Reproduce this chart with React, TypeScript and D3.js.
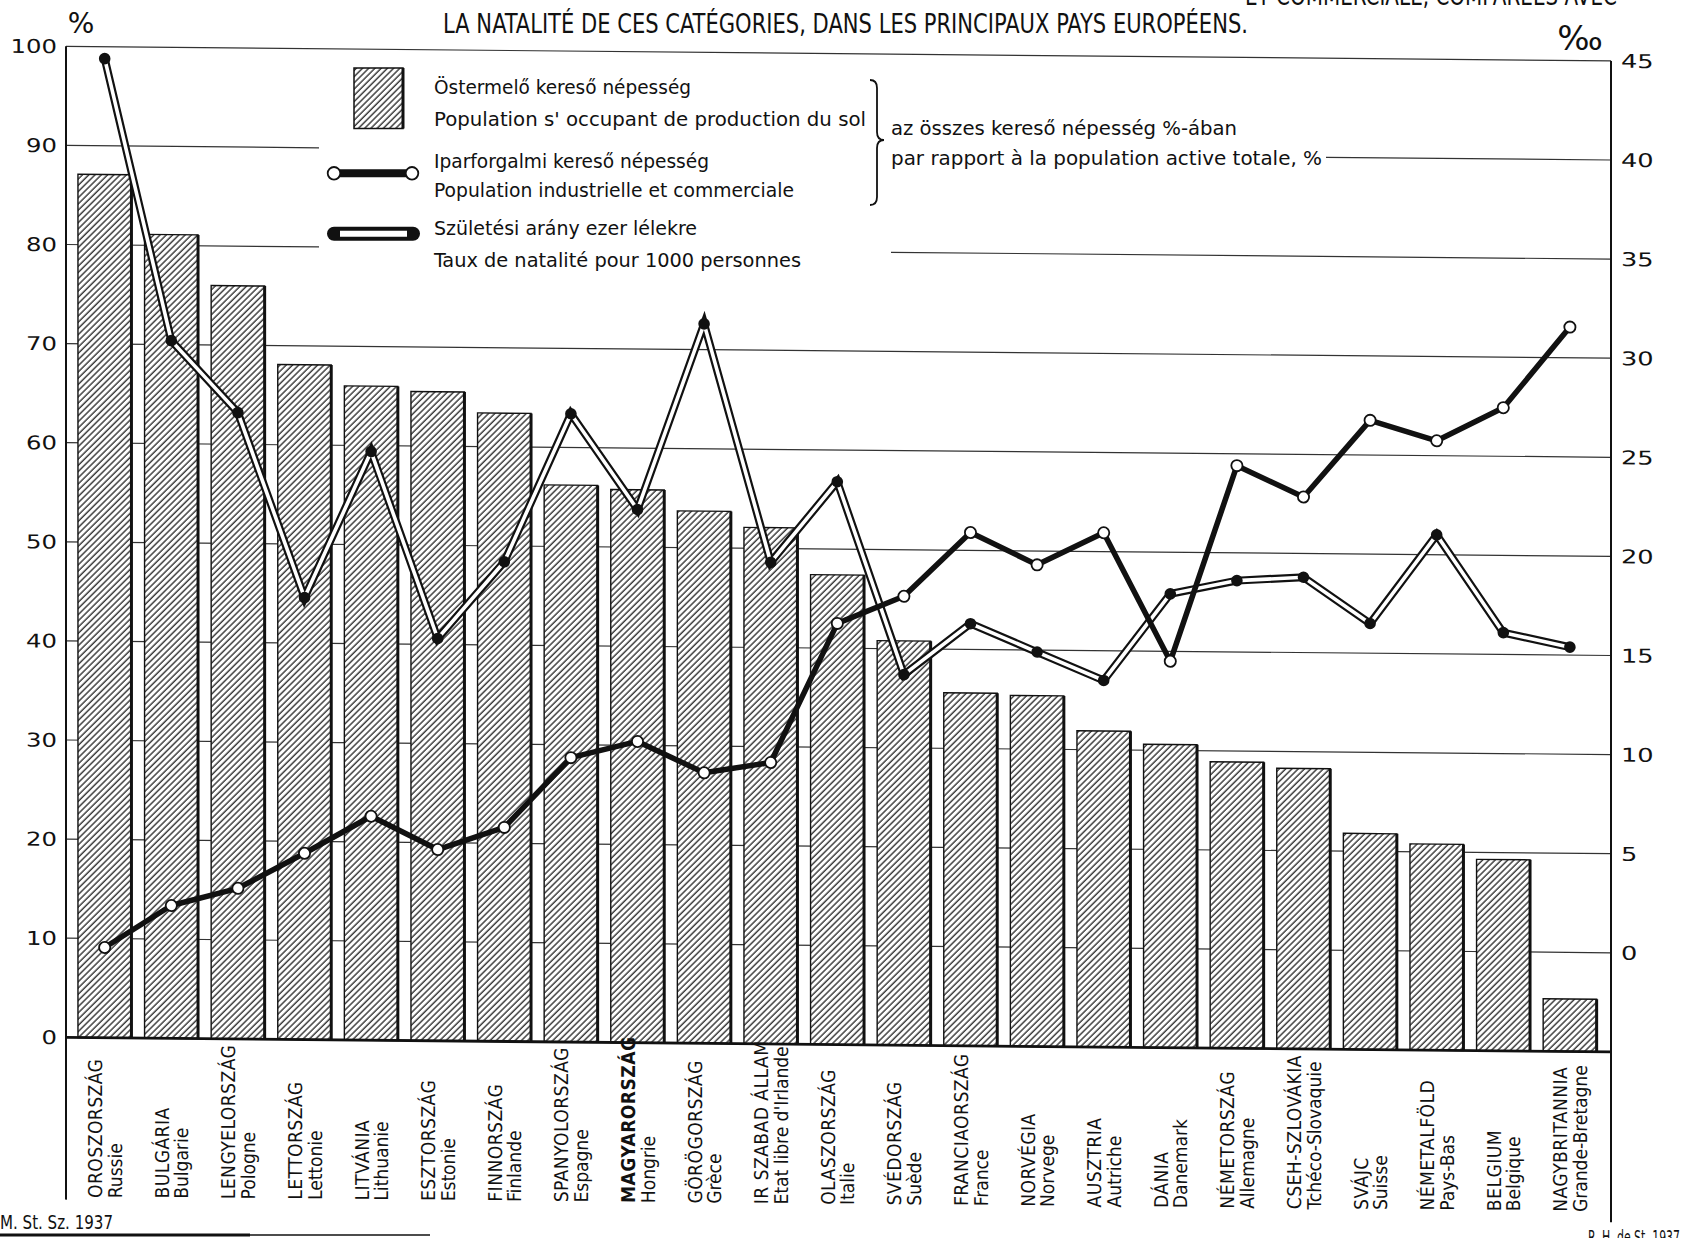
import * as d3 from 'd3';
import { useEffect, useRef } from 'react';

// országok, magyar és francia néven (a grafikon sorrendjében)
const orszagok = [
  'OROSZORSZÁG', 'BULGÁRIA', 'LENGYELORSZÁG', 'LETTORSZÁG', 'LITVÁNIA', 'ESZTORSZÁG',
  'FINNORSZÁG', 'SPANYOLORSZÁG', 'MAGYARORSZÁG', 'GÖRÖGORSZÁG', 'IR SZABAD ÁLLAM',
  'OLASZORSZÁG', 'SVÉDORSZÁG', 'FRANCIAORSZÁG', 'NORVÉGIA', 'AUSZTRIA', 'DÁNIA',
  'NÉMETORSZÁG', 'CSEH-SZLOVÁKIA', 'SVÁJC', 'NÉMETALFÖLD', 'BELGIUM', 'NAGYBRITANNIA',
];
const pays = [
  'Russie', 'Bulgarie', 'Pologne', 'Lettonie', 'Lithuanie', 'Estonie',
  'Finlande', 'Espagne', 'Hongrie', 'Grèce', "Etat libre d'Irlande",
  'Italie', 'Suède', 'France', 'Norvege', 'Autriche', 'Danemark',
  'Allemagne', 'Tchéco-Slovaquie', 'Suisse', 'Pays-Bas', 'Belgique', 'Grande-Bretagne',
];

// Östermelő kereső népesség, az összes kereső népesség %-ában (oszlopok)
const ostermelo = [
  87.1, 81.1, 76.0, 68.1, 66.0, 65.5, 63.4, 56.2, 55.8, 53.7, 52.1,
  47.4, 40.8, 35.6, 35.4, 31.9, 30.6, 28.9, 28.3, 21.8, 20.8, 19.3, 5.3,
];
// Iparforgalmi kereső népesség, % (fekete vonal)
const iparforgalmi = [
  9.1, 13.4, 15.2, 18.8, 22.6, 19.3, 21.6, 28.7, 30.4, 27.3, 28.4,
  42.5, 45.3, 51.8, 48.6, 51.9, 39.0, 58.8, 55.7, 63.5, 61.5, 64.9, 73.1,
];
// Születési arány ezer lélekre, ‰ (üres vonal)
const szuletes = [
  44.4, 30.2, 26.6, 17.3, 24.7, 15.3, 19.2, 26.7, 21.9, 31.3, 19.3,
  23.4, 13.7, 16.3, 14.9, 13.5, 17.9, 18.6, 18.8, 16.5, 21.0, 16.1, 15.4,
];

const balTengely = [0, 10, 20, 30, 40, 50, 60, 70, 80, 90, 100];
const jobbTengely = [0, 5, 10, 15, 20, 25, 30, 35, 40, 45];

type Sor = { o: string; fr: string; agr: number; ind: number; birth: number };

const W = 1682;
const H = 1238;
const NARROW = "'Liberation Sans Narrow','DejaVu Sans Condensed','Arial Narrow',sans-serif";
const WIDE = "'DejaVu Sans',sans-serif";
const INK = '#111';

export default function App() {
  const svgRef = useRef<SVGSVGElement | null>(null);

  useEffect(() => {
    if (!svgRef.current) return;
    const rows: Sor[] = orszagok.map((o, i) => ({
      o, fr: pays[i], agr: ostermelo[i], ind: iparforgalmi[i], birth: szuletes[i],
    }));

    const svg = d3.select(svgRef.current);
    svg.selectAll('*').remove();
    svg.attr('width', W).attr('height', H).attr('viewBox', `0 0 ${W} ${H}`);
    svg.append('rect').attr('width', W).attr('height', H).attr('fill', '#fff');

    // sraffozás az oszlopokhoz
    const defs = svg.append('defs');
    const pat = defs.append('pattern')
      .attr('id', 'hatch')
      .attr('patternUnits', 'userSpaceOnUse')
      .attr('width', 4.4).attr('height', 10)
      .attr('patternTransform', 'rotate(45)');
    pat.append('rect').attr('width', 4.4).attr('height', 10).attr('fill', '#fff');
    pat.append('line').attr('x1', 1).attr('x2', 1).attr('y1', 0).attr('y2', 10)
      .attr('stroke', INK).attr('stroke-width', 1.2);

    const xLeft = 66;
    const xRight = 1611;
    const x = d3.scaleBand<string>().domain(orszagok).range([71.4, 1603.2])
      .paddingInner(0.197).paddingOuter(0.0985);
    const yL = d3.scaleLinear().domain([0, 100]).range([1036.7, 45.7]);
    const yR = d3.scaleLinear().domain([-5, 45]).range([1036.7, 45.7]);
    const cx = (d: Sor) => (x(d.o) as number) + x.bandwidth() / 2;

    // the scan is slightly skewed, so the plot area leans a little
    const g = svg.append('g').attr('transform', 'skewY(0.54)');

    // rácsvonalak (the legend interrupts two of them)
    const grid = g.append('g').attr('stroke', '#333').attr('stroke-width', 1.2);
    balTengely.filter(t => t > 0).forEach(t => {
      const segs = t === 90 ? [[xLeft, 319], [1326, xRight]]
        : t === 80 ? [[xLeft, 319], [891, xRight]]
        : [[xLeft, xRight]];
      segs.forEach(([a, b]) => {
        grid.append('line').attr('x1', a).attr('x2', b).attr('y1', yL(t)).attr('y2', yL(t));
      });
    });

    // oszlopok
    const bar = g.append('g').selectAll('g').data(rows).join('g');
    bar.append('rect')
      .attr('x', d => x(d.o) as number)
      .attr('y', d => yL(d.agr))
      .attr('width', x.bandwidth())
      .attr('height', d => yL(0) - yL(d.agr))
      .attr('fill', 'url(#hatch)')
      .attr('stroke', INK).attr('stroke-width', 1.4);
    bar.append('line')
      .attr('x1', d => (x(d.o) as number) + x.bandwidth())
      .attr('x2', d => (x(d.o) as number) + x.bandwidth())
      .attr('y1', d => yL(d.agr)).attr('y2', yL(0))
      .attr('stroke', INK).attr('stroke-width', 3);

    // tengelyek
    g.append('line').attr('x1', xLeft).attr('x2', xRight).attr('y1', yL(0)).attr('y2', yL(0))
      .attr('stroke', INK).attr('stroke-width', 2.8);
    g.append('line').attr('x1', xLeft).attr('x2', xLeft).attr('y1', yL(100)).attr('y2', 1199)
      .attr('stroke', INK).attr('stroke-width', 2);
    g.append('line').attr('x1', xRight).attr('x2', xRight).attr('y1', yR(45)).attr('y2', 1207)
      .attr('stroke', INK).attr('stroke-width', 2);

    g.append('g').selectAll('text').data(balTengely).join('text')
      .attr('transform', t => `translate(57,${yL(t)}) scale(1.28,1)`)
      .attr('dy', '0.36em')
      .attr('text-anchor', 'end')
      .attr('font-family', WIDE).attr('font-size', 19).attr('fill', INK)
      .text(t => t);
    g.append('g').selectAll('text').data(jobbTengely).join('text')
      .attr('transform', t => `translate(1621,${yR(t)}) scale(1.35,1)`)
      .attr('dy', '0.36em')
      .attr('font-family', WIDE).attr('font-size', 19).attr('fill', INK)
      .text(t => t);

    // születési arány: üres (fehér) vonal fekete pontokkal
    const birthLine = d3.line<Sor>().x(cx).y(d => yR(d.birth));
    g.append('path').attr('d', birthLine(rows)).attr('fill', 'none')
      .attr('stroke', INK).attr('stroke-width', 8).attr('stroke-linejoin', 'miter');
    g.append('path').attr('d', birthLine(rows)).attr('fill', 'none')
      .attr('stroke', '#fff').attr('stroke-width', 3.6).attr('stroke-linejoin', 'miter');
    g.append('g').selectAll('circle').data(rows).join('circle')
      .attr('cx', cx).attr('cy', d => yR(d.birth)).attr('r', 5.8).attr('fill', INK);

    // iparforgalmi népesség: fekete vonal fehér karikákkal
    const indLine = d3.line<Sor>().x(cx).y(d => yL(d.ind));
    g.append('path').attr('d', indLine(rows)).attr('fill', 'none')
      .attr('stroke', INK).attr('stroke-width', 5.5).attr('stroke-linejoin', 'round');
    g.append('g').selectAll('circle').data(rows).join('circle')
      .attr('cx', cx).attr('cy', d => yL(d.ind)).attr('r', 5.6)
      .attr('fill', '#fff').attr('stroke', INK).attr('stroke-width', 1.8);

    // országnevek, alulról felfelé
    const lab = g.append('g').selectAll('g').data(rows).join('g')
      .attr('transform', d => `translate(${cx(d)},1197) rotate(-90)`)
      .attr('font-family', NARROW).attr('font-size', 19).attr('fill', INK);
    lab.append('text').attr('y', -2.5).attr('letter-spacing', 0.5)
      .attr('font-weight', d => (d.o === 'MAGYARORSZÁG' ? 'bold' : 'normal'))
      .text(d => d.o);
    lab.append('text').attr('y', 17).text(d => d.fr);

    // címsor, jelmagyarázat (nem ferde)
    const txt = (s: string, tx: number, ty: number, size: number, len?: number, anchor = 'start') => {
      const t = svg.append('text').attr('x', tx).attr('y', ty)
        .attr('font-family', NARROW).attr('font-size', size).attr('fill', INK)
        .attr('text-anchor', anchor).text(s);
      if (len) t.attr('textLength', len).attr('lengthAdjust', 'spacingAndGlyphs');
      return t;
    };
    txt('ET COMMERCIALE, COMPARÉES AVEC', 1245, 5, 26, 372);
    txt('LA NATALITÉ DE CES CATÉGORIES, DANS LES PRINCIPAUX PAYS EUROPÉENS.', 443, 33, 26, 805);

    svg.append('text').attr('x', 81).attr('y', 33).attr('text-anchor', 'middle')
      .attr('font-family', WIDE).attr('font-size', 28).attr('fill', INK).text('%');
    svg.append('text').attr('x', 1580).attr('y', 50).attr('text-anchor', 'middle')
      .attr('font-family', WIDE).attr('font-size', 34).attr('fill', INK).text('‰');

    // jelmagyarázat
    const leg = svg.append('g');
    leg.append('rect').attr('x', 354).attr('y', 68).attr('width', 49).attr('height', 60.5)
      .attr('fill', 'url(#hatch)').attr('stroke', INK).attr('stroke-width', 1.5);
    leg.append('line').attr('x1', 403).attr('x2', 403).attr('y1', 68).attr('y2', 128.5)
      .attr('stroke', INK).attr('stroke-width', 3);

    leg.append('line').attr('x1', 334).attr('x2', 412).attr('y1', 173.3).attr('y2', 173.3)
      .attr('stroke', INK).attr('stroke-width', 8);
    [334, 412].forEach(px => {
      leg.append('circle').attr('cx', px).attr('cy', 173.3).attr('r', 6.3)
        .attr('fill', '#fff').attr('stroke', INK).attr('stroke-width', 1.8);
    });

    leg.append('line').attr('x1', 334).attr('x2', 413).attr('y1', 233.7).attr('y2', 233.7)
      .attr('stroke', INK).attr('stroke-width', 14).attr('stroke-linecap', 'round');
    leg.append('line').attr('x1', 340).attr('x2', 407).attr('y1', 233.7).attr('y2', 233.7)
      .attr('stroke', '#fff').attr('stroke-width', 6);

    txt('Östermelő kereső népesség', 434, 94.3, 19, 257);
    txt("Population s' occupant de production du sol", 434, 126, 19, 432);
    txt('Iparforgalmi kereső népesség', 434, 168.3, 19, 275);
    txt('Population industrielle et commerciale', 434, 196.7, 19, 360);
    txt('Születési arány ezer lélekre', 434, 235, 19, 263);
    txt('Taux de natalité pour 1000 personnes', 434, 266.7, 19, 367);

    leg.append('path')
      .attr('d', 'M870,80 Q877,80 877,88 L877,132 Q877,140 884,140 Q877,140 877,148 L877,197 Q877,205 870,205')
      .attr('fill', 'none').attr('stroke', INK).attr('stroke-width', 1.8);
    txt('az összes kereső népesség %-ában', 891, 135, 19, 346);
    txt('par rapport à la population active totale, %', 891, 165, 19, 431);

    // források
    txt('M. St. Sz. 1937', 0, 1229, 19, 113);
    svg.append('line').attr('x1', 0).attr('x2', 250).attr('y1', 1235).attr('y2', 1235)
      .attr('stroke', INK).attr('stroke-width', 3);
    svg.append('line').attr('x1', 250).attr('x2', 430).attr('y1', 1235).attr('y2', 1235)
      .attr('stroke', INK).attr('stroke-width', 1.4);
    txt('R. H. de St. 1937', 1588, 1244, 19, 92);
  }, []);

  return (
    <div style={{ position: 'absolute', left: 0, top: 0, background: '#fff' }}>
      <svg ref={svgRef} width={W} height={H} style={{ display: 'block' }} />
    </div>
  );
}
